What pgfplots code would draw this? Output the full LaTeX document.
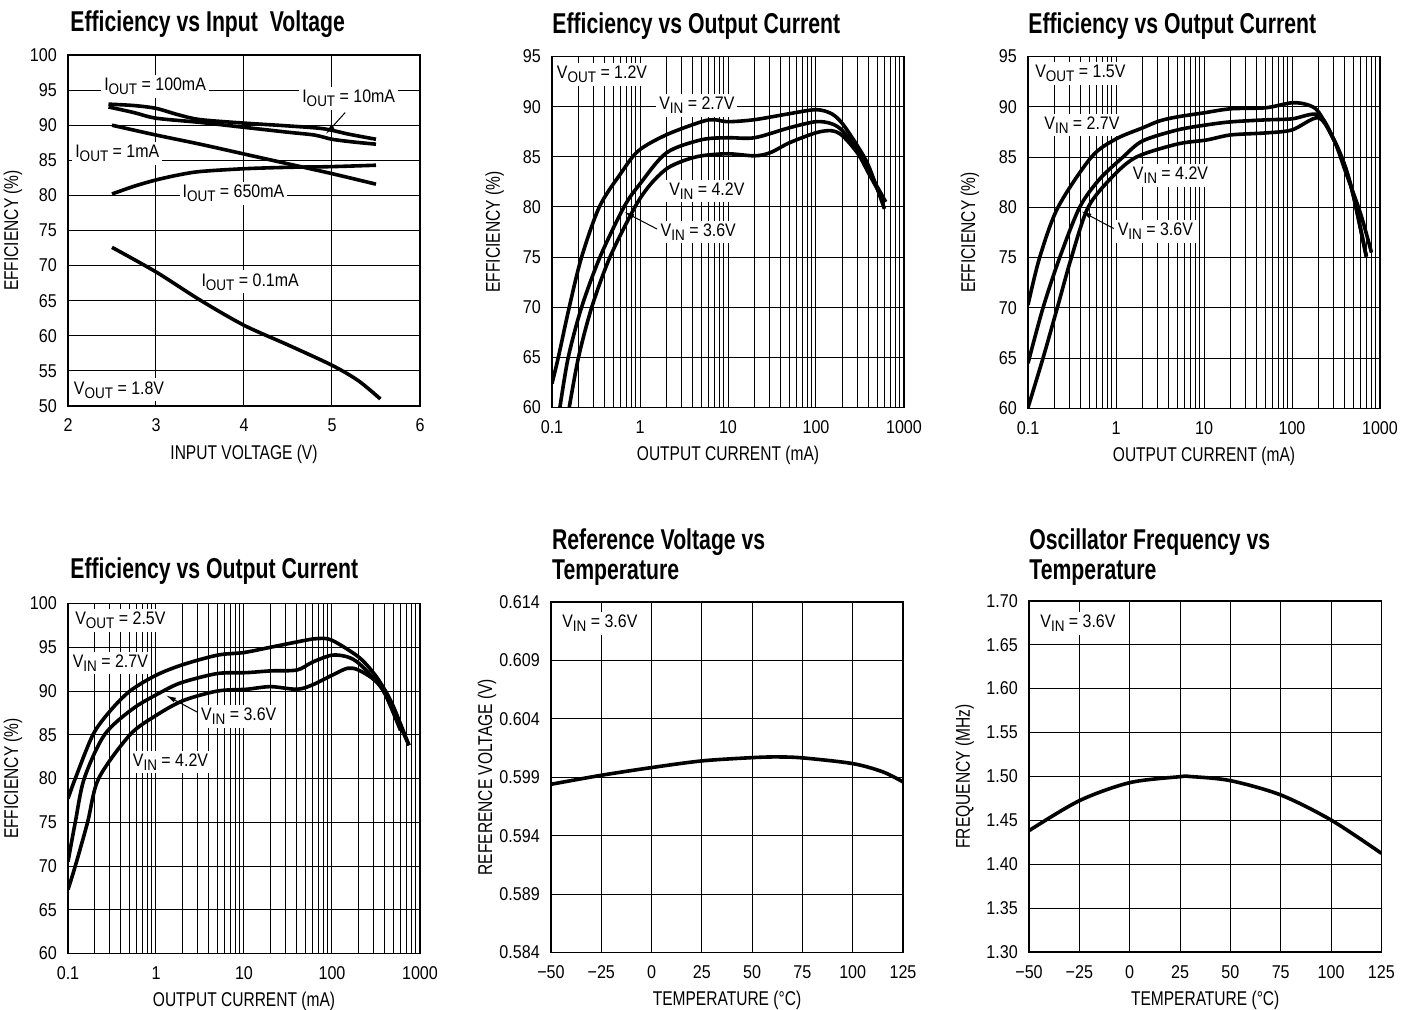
\documentclass[border=0pt]{standalone}
\usepackage{fontspec}
\setmainfont{Liberation Sans}[FakeStretch=0.85]
\newfontfamily\tickfont{Liberation Sans}[FakeStretch=0.87]
\newfontfamily\labfont{Liberation Sans}[FakeStretch=0.78]
\newfontfamily\annfont{Liberation Sans}[FakeStretch=0.88]
\newfontfamily\titlefont{Liberation Sans}[FakeStretch=0.74]
\usepackage{pgfplots}
\pgfplotsset{compat=1.18}
\usetikzlibrary{arrows.meta}

\newcommand{\sub}[1]{\raisebox{-2bp}{\fontsize{7.7}{8}\selectfont #1}}

\pgfplotsset{
  panel/.style={
    scale only axis, width=176bp, height=175.5bp, anchor=south west,
    axis line style={line width=0.9bp},
    grid style={line width=0.5bp, black},
    minor grid style={line width=0.5bp, black},
    major tick length=0pt, minor tick length=0pt,
    xticklabel style={font=\tickfont\fontsize{9.3}{10}\selectfont, yshift=-3bp},
    yticklabel style={font=\tickfont\fontsize{9.3}{10}\selectfont, xshift=-2.1bp},
    xlabel style={font=\labfont\fontsize{10}{12}\selectfont,
      at={(axis description cs:0.5,0)}, anchor=base, yshift=-26.5bp},
    ylabel style={font=\labfont\fontsize{10}{12}\selectfont, anchor=base},
    cycle list={{black}},
    every axis plot post/.append style={line width=1.8bp, black, smooth, tension=0.5, no marks},
  },
  logpanel/.style={
    xmin=0.1, xmax=1000,
    xtick={0.1,1,10,100,1000}, xticklabels={0.1,1,10,100,1000},
    minor xtick={0.2,0.3,0.4,0.5,0.6,0.7,0.8,0.9,2,3,4,5,6,7,8,9,20,30,40,50,60,70,80,90,200,300,400,500,600,700,800,900},
    xmajorgrids, xminorgrids, ymajorgrids,
    xlabel={OUTPUT CURRENT (mA)}, ylabel={EFFICIENCY (\%)},
  },
}
\tikzset{
  lab/.style={fill=white, inner sep=1.5bp, font=\annfont\fontsize{9.1}{10}\selectfont},
  arr/.style={-{Latex[length=5bp,width=2.6bp]}, line width=0.5bp},
  ttl/.style={anchor=base west, inner sep=0pt, font=\titlefont\bfseries\fontsize{14.4}{16}\selectfont},
}

\begin{document}
\begin{tikzpicture}
\useasboundingbox (0,0) rectangle (707.5bp,-505bp);

% titles
\node[ttl] at (35bp,-15.85bp) {Efficiency vs Input\ \ Voltage};
\node[ttl] at (276bp,-16.75bp) {Efficiency vs Output Current};
\node[ttl] at (514bp,-16.75bp) {Efficiency vs Output Current};
\node[ttl] at (35bp,-289.25bp) {Efficiency vs Output Current};
\node[ttl] at (275.85bp,-274.85bp) {Reference Voltage vs};
\node[ttl] at (275.85bp,-289.5bp) {Temperature};
\node[ttl] at (514.5bp,-274.85bp) {Oscillator Frequency vs};
\node[ttl] at (514.5bp,-289.5bp) {Temperature};

% efficiency vs input voltage
\begin{axis}[panel, at={(34bp,-203bp)}, height=175.5bp,
  xmin=2, xmax=6, ymin=50, ymax=100,
  xtick={2,3,4,5,6}, xticklabels={2,3,4,5,6},
  ytick={50,55,60,65,70,75,80,85,90,95,100},
  yticklabels={50,55,60,65,70,75,80,85,90,95,100},
  grid=major,
  xlabel={INPUT VOLTAGE (V)}, ylabel={EFFICIENCY (\%)},
  ylabel style={at={(axis description cs:-0.1415,0.5)}}]
\node[lab] at (axis cs:2.99,95.5) {I\sub{OUT} = 100mA};
\node[lab] at (axis cs:5.19,93.8) {I\sub{OUT} = 10mA};
\node[lab] at (axis cs:2.56,86.0) {I\sub{OUT} = 1mA};
\node[lab] at (axis cs:3.88,80.3) {I\sub{OUT} = 650mA};
\node[lab] at (axis cs:4.07,67.7) {I\sub{OUT} = 0.1mA};
\node[lab] at (axis cs:2.58,52.3) {V\sub{OUT} = 1.8V};
\addplot coordinates {(2.46,93.0)(2.75,92.8)(3.0,92.4)(3.25,91.5)(3.5,90.8)(4.0,90.3)(4.5,89.9)(4.9,89.5)(5.2,88.7)(5.5,88.0)};
\addplot coordinates {(2.46,92.6)(2.75,91.8)(3.0,91.0)(3.5,90.4)(4.0,89.7)(4.5,89.0)(4.8,88.6)(5.0,88.0)(5.25,87.6)(5.5,87.3)};
\addplot coordinates {(2.5,90.0)(3.0,88.6)(3.5,87.3)(4.0,85.9)(4.5,84.5)(5.0,83.1)(5.5,81.6)};
\addplot coordinates {(2.5,80.2)(2.75,81.3)(3.0,82.2)(3.25,82.9)(3.5,83.4)(4.0,83.8)(4.5,84.0)(5.0,84.1)(5.5,84.3)};
\addplot coordinates {(2.5,72.6)(3.0,69.1)(3.5,65.1)(4.0,61.5)(4.5,58.7)(5.0,55.8)(5.3,53.6)(5.55,51.0)};
\draw[arr] (axis cs:5.15,91.8) -- (axis cs:4.93,88.75);
\end{axis}

% efficiency vs output current, VOUT = 1.2V
\begin{semilogxaxis}[panel, logpanel, at={(276bp,-203.75bp)}, height=175.5bp,
  ymin=60, ymax=95, ytick={60,65,70,75,80,85,90,95},
  yticklabels={60,65,70,75,80,85,90,95},
  ylabel style={at={(axis description cs:-0.148,0.5)}}]
\node[lab] at (axis cs:0.37,93.2) {V\sub{OUT} = 1.2V};
\node[lab] at (axis cs:4.43,90.1) {V\sub{IN} = 2.7V};
\node[lab] at (axis cs:5.75,81.6) {V\sub{IN} = 4.2V};
\node[lab] at (axis cs:4.6,77.5) {V\sub{IN} = 3.6V};
\addplot coordinates {(0.1,62.4)(0.118,65.0)(0.157,70.0)(0.217,75.0)(0.345,80.0)(0.6,83.3)(0.96,85.6)(2,87.2)(5,88.5)(7,88.7)(10,88.5)(20,88.7)(50,89.3)(100,89.7)(150,89.3)(200,88.3)(300,86.0)(400,84.0)(600,79.8)};
\addplot coordinates {(0.123,60.0)(0.153,65.0)(0.217,70.0)(0.351,75.0)(0.658,80.0)(1,82.3)(2,85.4)(5,86.7)(10,86.9)(20,86.9)(50,87.9)(100,88.5)(150,88.3)(200,87.6)(300,85.6)(400,83.5)(620,80.5)};
\addplot coordinates {(0.157,60.0)(0.2,65.0)(0.283,70.0)(0.456,75.0)(0.877,80.0)(1.3,82.2)(2,83.8)(3.1,84.6)(5,85.1)(10,85.3)(20,85.1)(30,85.4)(50,86.4)(100,87.4)(150,87.6)(200,87.1)(300,85.3)(400,83.3)(600,80.5)};
\draw[arr] (axis cs:1.56,77.8) -- (axis cs:0.662,79.5);
\end{semilogxaxis}

% efficiency vs output current, VOUT = 1.5V
\begin{semilogxaxis}[panel, logpanel, at={(514bp,-204.25bp)}, height=176bp,
  ymin=60, ymax=95, ytick={60,65,70,75,80,85,90,95},
  yticklabels={60,65,70,75,80,85,90,95},
  ylabel style={at={(axis description cs:-0.15,0.5)}}]
\node[lab] at (axis cs:0.394,93.3) {V\sub{OUT} = 1.5V};
\node[lab] at (axis cs:0.41,88.2) {V\sub{IN} = 2.7V};
\node[lab] at (axis cs:4.16,83.2) {V\sub{IN} = 4.2V};
\node[lab] at (axis cs:2.8,77.6) {V\sub{IN} = 3.6V};
\addplot coordinates {(0.1,70.3)(0.1355,75.0)(0.219,80.0)(0.525,85.0)(1,86.8)(2,87.9)(3.14,88.6)(5,89.0)(10,89.4)(20,89.8)(50,89.9)(100,90.4)(150,90.2)(200,89.5)(300,86.7)(400,84.1)(500,81.1)(700,75.1)};
\addplot coordinates {(0.1,64.5)(0.148,70.0)(0.229,75.0)(0.386,80.0)(0.65,82.8)(1.2,85.0)(2,86.6)(5,87.7)(10.7,88.2)(20,88.5)(50,88.7)(100,88.8)(200,89.2)(300,86.7)(400,83.7)(600,79.4)(800,75.5)};
\addplot coordinates {(0.1,60.1)(0.148,65.0)(0.215,70.0)(0.311,75.0)(0.482,80.0)(0.9,83.0)(1.7,85.0)(5,86.3)(10.7,86.7)(20,87.2)(50,87.4)(100,87.7)(200,88.9)(300,86.7)(400,84.1)(500,81.1)(700,75.1)};
\draw[arr] (axis cs:0.94,77.9) -- (axis cs:0.405,79.6);
\end{semilogxaxis}

% efficiency vs output current, VOUT = 2.5V
\begin{semilogxaxis}[panel, logpanel, at={(34bp,-476.75bp)}, height=175bp,
  ymin=60, ymax=100, ytick={60,65,70,75,80,85,90,95,100},
  yticklabels={60,65,70,75,80,85,90,95,100},
  ylabel style={at={(axis description cs:-0.1415,0.5)}}]
\node[lab] at (axis cs:0.394,98.1) {V\sub{OUT} = 2.5V};
\node[lab] at (axis cs:0.303,93.2) {V\sub{IN} = 2.7V};
\node[lab] at (axis cs:8.73,87.1) {V\sub{IN} = 3.6V};
\node[lab] at (axis cs:1.46,81.9) {V\sub{IN} = 4.2V};
\addplot coordinates {(0.1,77.7)(0.121,80.0)(0.192,85.0)(0.3,87.7)(0.506,90.0)(1,91.8)(2,93.0)(5,94.1)(10,94.4)(20,95.0)(50,95.8)(70,96.0)(100,95.8)(200,93.9)(300,92.0)(400,90.1)(500,88.2)(750,83.8)};
\addplot coordinates {(0.1,70.5)(0.121,75.0)(0.153,80.0)(0.26,85.0)(0.55,88.0)(1.21,90.0)(2,91.0)(5,92.0)(10.7,92.1)(20,92.3)(40,92.4)(60,93.3)(100,94.1)(150,93.9)(200,93.2)(300,91.4)(400,89.7)(600,85.5)};
\addplot coordinates {(0.1,67.3)(0.121,70.0)(0.167,75.0)(0.223,80.0)(0.506,85.0)(1,87.2)(2.03,88.9)(5,90.0)(10.7,90.2)(20,90.5)(40,90.2)(60,90.7)(100,91.8)(150,92.6)(200,92.4)(300,91.3)(400,89.7)(750,83.8)};
\draw[arr] (axis cs:2.93,87.6) -- (axis cs:1.30,89.5);
\end{semilogxaxis}

% reference voltage vs temperature
\begin{axis}[panel, at={(275.5bp,-476.25bp)}, height=175.25bp,
  xmin=-50, xmax=125, ymin=0.584, ymax=0.614,
  xtick={-50,-25,0,25,50,75,100,125},
  xticklabels={−50,−25,0,25,50,75,100,125},
  ytick={0.584,0.589,0.594,0.599,0.604,0.609,0.614},
  yticklabels={0.584,0.589,0.594,0.599,0.604,0.609,0.614},
  grid=major,
  xlabel={TEMPERATURE (°C)}, ylabel={REFERENCE VOLTAGE (V)},
  ylabel style={at={(axis description cs:-0.1675,0.5)}}]
\node[lab] at (axis cs:-25.7,0.61215) {V\sub{IN} = 3.6V};
\addplot coordinates {(-50,0.59840)(-25,0.59917)(0,0.59983)(25,0.60040)(50,0.60068)(62,0.60074)(75,0.60066)(100,0.60017)(115,0.59946)(125,0.59860)};
\end{axis}

% oscillator frequency vs temperature
\begin{axis}[panel, at={(514.5bp,-476.15bp)}, height=175.8bp, width=176.2bp,
  xmin=-50, xmax=125, ymin=1.30, ymax=1.70,
  xtick={-50,-25,0,25,50,75,100,125},
  xticklabels={−50,−25,0,25,50,75,100,125},
  ytick={1.30,1.35,1.40,1.45,1.50,1.55,1.60,1.65,1.70},
  yticklabels={1.30,1.35,1.40,1.45,1.50,1.55,1.60,1.65,1.70},
  grid=major,
  xlabel={TEMPERATURE (°C)}, ylabel={FREQUENCY (MHz)},
  ylabel style={at={(axis description cs:-0.1675,0.5)}}]
\node[lab] at (axis cs:-25.7,1.674) {V\sub{IN} = 3.6V};
\addplot coordinates {(-50,1.4384)(-25,1.4725)(0,1.4930)(25,1.4998)(30,1.5000)(50,1.4953)(75,1.4790)(100,1.4505)(125,1.4126)};
\end{axis}
\end{tikzpicture}
\end{document}
